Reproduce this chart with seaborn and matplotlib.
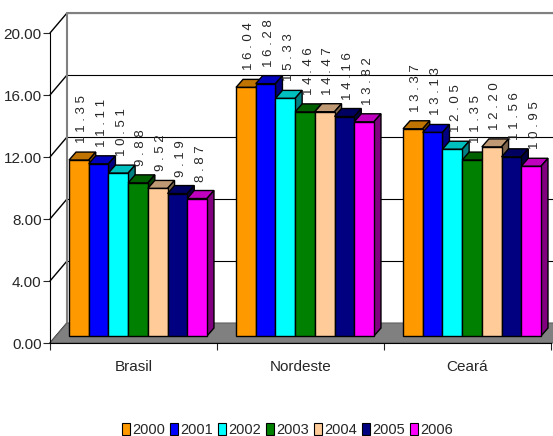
import numpy as np
import pandas as pd
import seaborn as sns
import matplotlib.pyplot as plt
import matplotlib.colors as mcolors
from matplotlib.transforms import ScaledTranslation
from matplotlib.patches import Polygon, Patch

# data
regions = ["Brasil", "Nordeste", "Ceará"]
years = ["2000", "2001", "2002", "2003", "2004", "2005", "2006"]
brasil = [11.35, 11.11, 10.51, 9.88, 9.52, 9.19, 8.87]
nordeste = [16.04, 16.28, 15.33, 14.46, 14.47, 14.16, 13.82]
ceara = [13.37, 13.13, 12.05, 11.35, 12.20, 11.56, 10.95]
yticks = [0, 4, 8, 12, 16, 20]
colors = ["#FF9900", "#0000FF", "#00FFFF", "#008000", "#FFCC99", "#000080", "#FF00FF"]

rows = []
for reg, vals in zip(regions, [brasil, nordeste, ceara]):
    for yr, v in zip(years, vals):
        rows.append({"region": reg, "year": yr, "value": v})
df = pd.DataFrame(rows)

sns.set_style("white")
plt.rcParams['font.family'] = ['Liberation Sans Narrow', 'Liberation Sans', 'DejaVu Sans']

fig = plt.figure(figsize=(5.53, 4.36), dpi=100)
ax = fig.add_axes([0.0904, 0.2133, 0.906, 0.711])

sns.barplot(data=df, x="region", y="value", hue="year", palette=colors, saturation=1,
            width=0.826, edgecolor="black", linewidth=1, legend=False, ax=ax)

ax.set_xlim(-0.5, 2.5)
ax.set_ylim(0, 20)
ax.set_xlabel("")
ax.set_ylabel("")

# pixel -> data unit conversions
px_x = ax.get_position().width * fig.get_figwidth() * fig.dpi / 3.0
px_y = ax.get_position().height * fig.get_figheight() * fig.dpi / 20.0

# 3d look: back wall offset, bars pushed into the floor, bar depth
wall_off = ax.transData + ScaledTranslation(0.17, 0.20, fig.dpi_scale_trans)
bar_off = ax.transData + ScaledTranslation(0.045, 0.07, fig.dpi_scale_trans)
lab_off = ax.transData + ScaledTranslation(0.045, 0.16, fig.dpi_scale_trans)
ddx = 7 / px_x
ddy = 8 / px_y

# back wall + gridlines
for t in yticks[1:]:
    ax.plot([-0.5, 2.6], [t, t], color="black", lw=0.8, transform=wall_off,
            clip_on=False, zorder=0.5)
ax.plot([-0.5, -0.5, 2.6], [0, 20, 20], color="#808080", lw=1.5, transform=wall_off,
        clip_on=False, zorder=0.6)

# diagonal lines from front ticks to the wall
to_fig = fig.transFigure.inverted()
for t in yticks:
    p0 = ax.transData.transform((-0.5, t))
    p1 = wall_off.transform((-0.5, t))
    a, b = to_fig.transform([p0, p1])
    ax.plot([a[0], b[0]], [a[1], b[1]], color="black", lw=1.0,
            transform=fig.transFigure, clip_on=False, zorder=0.55)

# floor
p_front = [ax.transData.transform((-0.5, 0)), ax.transData.transform((2.6, 0))]
p_back = [wall_off.transform((2.6, 0)), wall_off.transform((-0.5, 0))]
floor_pts = to_fig.transform(np.array(p_front + p_back))
ax.add_patch(Polygon(floor_pts, closed=True, facecolor="#808080", edgecolor="#606060",
                     lw=0.8, transform=fig.transFigure, clip_on=False, zorder=0.7))

# bars: move into floor, add top and side faces
bars = sorted(ax.patches[:-1], key=lambda p: p.get_x())
for i, bar in enumerate(bars):
    z = 2 + i * 0.01
    x0 = bar.get_x()
    w = bar.get_width()
    h = bar.get_height()
    fc = mcolors.to_rgb(bar.get_facecolor())
    top_c = tuple(c * 0.75 for c in fc)
    side_c = tuple(c * 0.5 for c in fc)
    top = Polygon([(x0, h), (x0 + w, h), (x0 + w + ddx, h + ddy), (x0 + ddx, h + ddy)],
                  closed=True, facecolor=top_c, edgecolor="black", lw=1,
                  transform=bar_off, clip_on=False, zorder=z)
    side = Polygon([(x0 + w, 0), (x0 + w + ddx, ddy), (x0 + w + ddx, h + ddy), (x0 + w, h)],
                   closed=True, facecolor=side_c, edgecolor="black", lw=1,
                   transform=bar_off, clip_on=False, zorder=z)
    ax.add_patch(top)
    ax.add_patch(side)
    bar.set_transform(bar_off)
    bar.set_zorder(z + 0.005)
    bar.set_clip_on(False)
    # value label, letter spaced, reading upward
    label = " ".join(f"{h:.2f}")
    ax.text(x0 + w / 2 + ddx / 2, h + ddy, label, rotation=90, ha="center", va="bottom",
            fontsize=9.5, family=["Liberation Sans", "DejaVu Sans"], transform=lab_off,
            clip_on=False, zorder=10)

# axes styling
for s in ["top", "right"]:
    ax.spines[s].set_visible(False)
ax.spines["left"].set_color("black")
ax.spines["bottom"].set_color("black")
ax.spines["left"].set_zorder(5)
ax.spines["bottom"].set_zorder(5)
ax.set_yticks(yticks)
ax.set_yticklabels([f"{t:.2f}" for t in yticks], fontsize=11)
ax.tick_params(axis="y", direction="out", length=5, width=0.8, left=True, pad=1)
ax.set_xticks([0, 1, 2])
ax.set_xticklabels(regions, fontsize=11)
ax.set_xticks([-0.5, 0.5, 1.5, 2.5], minor=True)
ax.tick_params(axis="x", which="major", length=0, pad=12)
ax.tick_params(axis="x", which="minor", direction="out", length=5, width=0.8, bottom=True)
ax.patch.set_visible(False)

handles = [Patch(facecolor=c, edgecolor="black", lw=0.8) for c in colors]
fig.legend(handles, years, loc="center", bbox_to_anchor=(0.52, 1 - 430 / 436), ncol=7,
           frameon=False, fontsize=10.5, handlelength=0.55, handleheight=0.8,
           handletextpad=0.15, columnspacing=0.35)

fig.savefig("out.png", dpi=100)
